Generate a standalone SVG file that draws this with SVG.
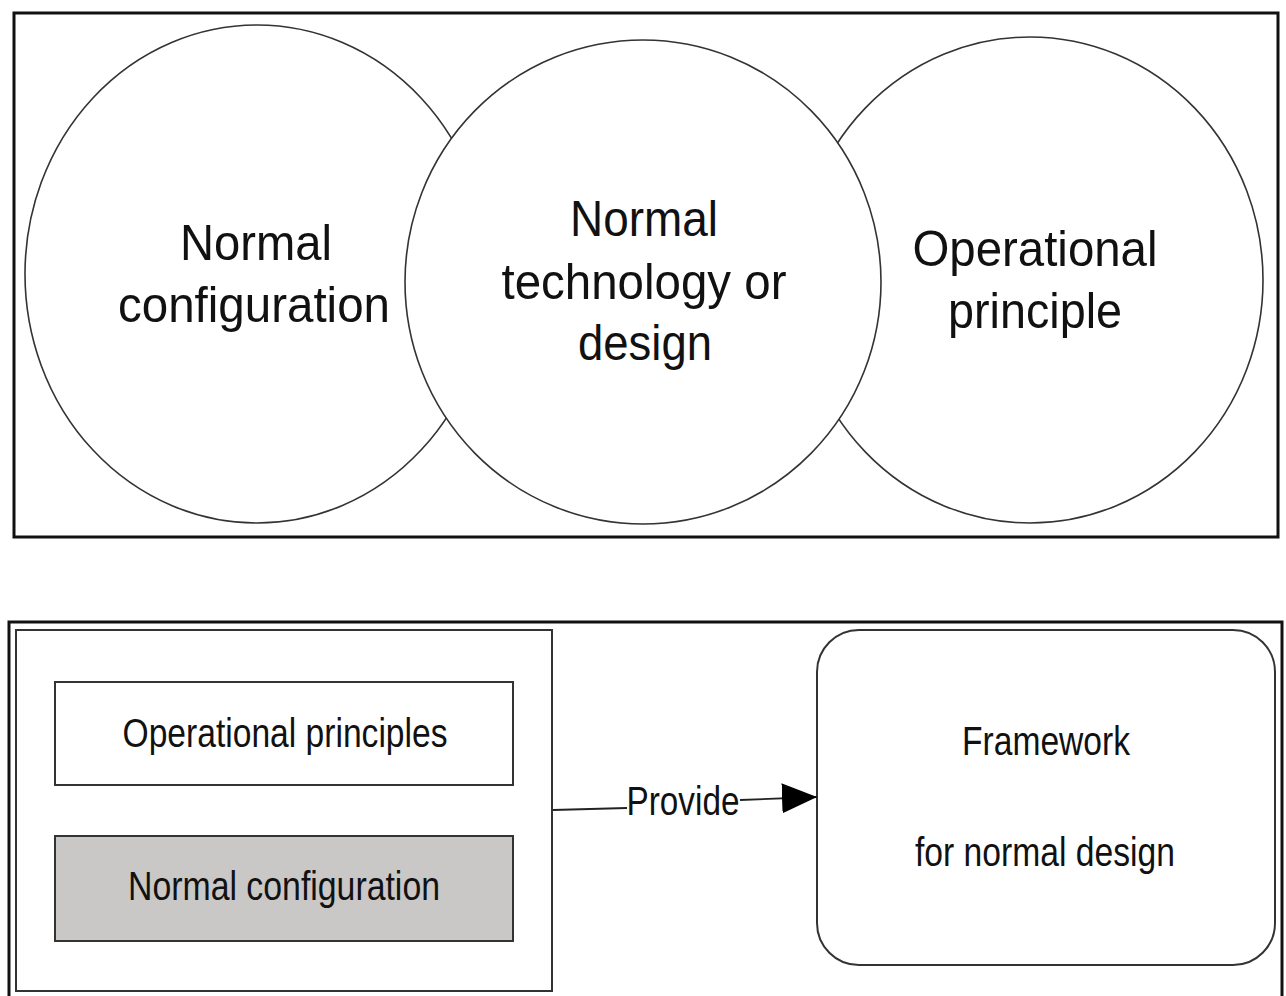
<svg xmlns="http://www.w3.org/2000/svg" width="1286" height="996" viewBox="0 0 1286 996">
<style>
.frame{fill:none;stroke:#111;stroke-width:3}
.circ{fill:#fff;stroke:#333;stroke-width:1.6}
.box{fill:#fff;stroke:#333;stroke-width:2}
.gray{fill:#cac7c7;stroke:#333;stroke-width:2}
.big{font-family:"Liberation Sans",Arial,sans-serif;font-size:50px;fill:#111;text-anchor:middle}
.nar{font-family:"Liberation Sans Narrow","Liberation Sans",Arial,sans-serif;font-size:40px;fill:#111;text-anchor:middle}
.conn{fill:none;stroke:#222;stroke-width:1.8}
</style>
<defs>
<marker id="arr" markerUnits="userSpaceOnUse" markerWidth="36" markerHeight="32" refX="35" refY="15" orient="auto">
<path d="M0,0 L35,15 L0,30 Z" fill="#000"/>
</marker>
</defs>
<rect width="1286" height="996" fill="#fff"/>
<g id="top-frame"><rect class="frame" x="14" y="13" width="1264" height="524"/></g>
<g id="circle-operational">
<ellipse class="circ" cx="1030" cy="280" rx="233" ry="243"/>
<text class="big" x="1035" y="266" textLength="245" lengthAdjust="spacingAndGlyphs">Operational</text>
<text class="big" x="1035" y="328" textLength="174" lengthAdjust="spacingAndGlyphs">principle</text>
</g>
<g id="circle-configuration">
<ellipse class="circ" cx="257" cy="274" rx="232" ry="249"/>
<text class="big" x="256" y="260" textLength="152" lengthAdjust="spacingAndGlyphs">Normal</text>
<text class="big" x="254" y="322" textLength="272" lengthAdjust="spacingAndGlyphs">configuration</text>
</g>
<g id="circle-technology">
<ellipse class="circ" cx="643" cy="282" rx="238" ry="242"/>
<text class="big" x="644" y="236" textLength="148" lengthAdjust="spacingAndGlyphs">Normal</text>
<text class="big" x="644" y="299" textLength="285" lengthAdjust="spacingAndGlyphs">technology or</text>
<text class="big" x="645" y="360" textLength="134" lengthAdjust="spacingAndGlyphs">design</text>
</g>
<g id="bottom-frame"><rect class="frame" x="9" y="622" width="1273" height="380"/></g>
<g id="left-group"><rect class="box" x="16" y="630" width="536" height="361"/></g>
<g id="operational-principles">
<rect class="box" x="55" y="682" width="458" height="103"/>
<text class="nar" x="285" y="747" textLength="325" lengthAdjust="spacingAndGlyphs">Operational principles</text>
</g>
<g id="normal-configuration">
<rect class="gray" x="55" y="836" width="458" height="105"/>
<text class="nar" x="284" y="900" textLength="312" lengthAdjust="spacingAndGlyphs">Normal configuration</text>
</g>
<g id="framework">
<rect class="box" x="817" y="630" width="458" height="335" rx="42" ry="42"/>
<text class="nar" x="1046" y="755" textLength="168" lengthAdjust="spacingAndGlyphs">Framework</text>
<text class="nar" x="1045" y="866" textLength="260" lengthAdjust="spacingAndGlyphs">for normal design</text>
</g>
<g id="connectors">
<path class="conn" d="M553,810 L627,808"/>
<path class="conn" d="M740,800 L817,797" marker-end="url(#arr)"/>
<text class="nar" x="683" y="815" textLength="113" lengthAdjust="spacingAndGlyphs">Provide</text>
</g>
</svg>
